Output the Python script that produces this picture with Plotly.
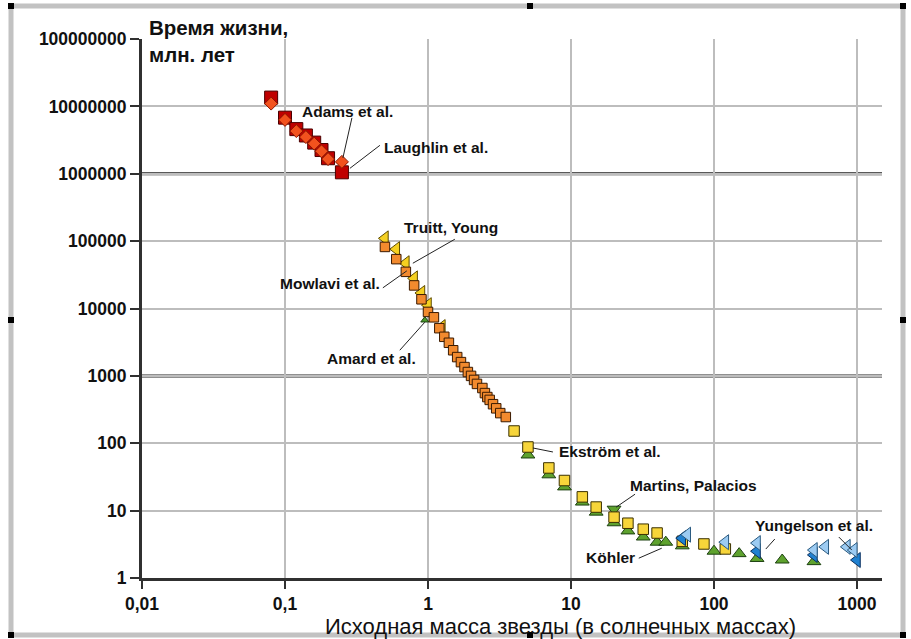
import math
import plotly.graph_objects as go

# ---------------- data ----------------
laughlin_mass = [0.08, 0.1, 0.12, 0.14, 0.16, 0.18, 0.2, 0.25]
laughlin_life = [1.35e7, 6.8e6, 4.6e6, 3.7e6, 2.9e6, 2.25e6, 1.7e6, 1.05e6]

adams_mass = [0.08, 0.1, 0.12, 0.14, 0.16, 0.18, 0.2, 0.25]
adams_life = [1.1e7, 6.3e6, 4.3e6, 3.5e6, 2.8e6, 2.15e6, 1.65e6, 1.5e6]

truitt_mass = [0.5, 0.6, 0.7, 0.8, 0.9, 1.0, 1.25]
truitt_life = [1.1e5, 7.6e4, 4.7e4, 2.8e4, 1.7e4, 1.12e4, 5.3e3]

amard_mass = [0.95]
amard_life = [6700]

mowlavi_mass = [0.5, 0.6, 0.7, 0.8, 0.9, 1.0, 1.1, 1.2, 1.3, 1.4, 1.5, 1.6, 1.7,
                1.8, 1.9, 2.0, 2.1, 2.2, 2.4, 2.5, 2.6, 2.7, 2.85, 3.0, 3.2, 3.5]
mowlavi_life = [8.2e4, 5.4e4, 3.5e4, 2.2e4, 1.37e4, 8.9e3, 7.4e3, 5.1e3, 3.8e3,
                3.1e3, 2.4e3, 1.9e3, 1.6e3, 1.35e3, 1.14e3, 1.0e3, 870, 760, 660,
                555, 485, 440, 380, 330, 280, 245]

kohler_mass = [5, 7, 9, 12, 15, 20, 25, 32, 40, 46, 60, 100, 150, 200, 300, 500]
kohler_life = [67, 34, 22.5, 13.4, 9.5, 6.6, 5.0, 4.06, 3.4, 3.4, 3.0, 2.5, 2.3,
               1.95, 1.85, 1.75]

martins_mass = [20]
martins_life = [10.5]

ekstrom_mass = [4, 5, 7, 9, 12, 15, 20, 25, 32, 40, 60, 85, 120]
ekstrom_life = [152, 88, 43, 28, 16, 11.3, 8.0, 6.5, 5.3, 4.65, 3.5, 3.2, 2.7]

yungelson_dark_mass = [60, 200, 500, 1000]
yungelson_dark_life = [3.9, 2.5, 2.2, 1.85]

yungelson_light_mass = [65, 120, 200, 500, 600, 850, 950]
yungelson_light_life = [4.4, 3.4, 3.3, 2.6, 2.9, 2.9, 2.6]

x_tick_vals = [0.01, 0.1, 1, 10, 100, 1000]
x_tick_text = ["0,01", "0,1", "1", "10", "100", "1000"]
y_tick_vals = [1, 10, 100, 1000, 10000, 100000, 1000000, 10000000, 100000000]
y_tick_text = ["1", "10", "100", "1000", "10000", "100000", "1000000",
               "10000000", "100000000"]
thick_levels = [1e6, 1e3]

y_title = "Время жизни,<br>млн. лет"
x_title = "Исходная масса звезды (в солнечных массах)"

# ---------------- layout constants ----------------
W, H = 911, 639
L, R, T, B = 142, 29, 39, 61
PW, PH = W - L - R, H - T - B
DX = 143.0            # px per decade on x
DY = PH / 8.0         # px per decade on y
FONT = "Liberation Sans, Arial, sans-serif"


def px_to_paper(px, py):
    return (px - L) / PW, (H - B - py) / PH


def offset(mx, my, dx, dy):
    """data point shifted by (dx, dy) screen pixels"""
    return mx * 10 ** (dx / DX), my * 10 ** (-dy / DY)


fig = go.Figure()


def add(mass, life, symbol, size, fill, edge, lw=1):
    fig.add_trace(go.Scatter(
        x=mass, y=life, mode="markers", hoverinfo="skip", showlegend=False,
        marker=dict(symbol=symbol, size=size, color=fill,
                    line=dict(color=edge, width=lw))))


add(laughlin_mass, laughlin_life, "square", 13, "#c00000", "#4a0000")
add(adams_mass, adams_life, "diamond", 10, "#f2521e", "#8a1500")
add(truitt_mass, truitt_life, "triangle-left", 13, "#f5d020", "#5e4c00")
add(amard_mass, amard_life, "triangle-up", 7, "#4a9a2a", "#1c4010")
add(mowlavi_mass, mowlavi_life, "square", 9.5, "#f28a2e", "#3a1a00")
add(kohler_mass, kohler_life, "triangle-up", 12, "#5ea22e", "#1c4010")
add(martins_mass, martins_life, "triangle-down", 12, "#5ea22e", "#1c4010")
add(ekstrom_mass, ekstrom_life, "square", 10.5, "#f7d53a", "#3a3000")
add(yungelson_dark_mass, yungelson_dark_life, "triangle-left", 13, "#1f80d0", "#0a3060")
add(yungelson_light_mass, yungelson_light_life, "triangle-left", 13, "#9ccbf2", "#2a5a80")

shapes = []
for lv in thick_levels:
    shapes.append(dict(type="line", xref="paper", x0=0, x1=1, yref="y", y0=lv, y1=lv,
                       line=dict(color="#222222", width=3), layer="between"))

# labels: text, anchor point, text offset (screen px), anchor side, leader lines (screen px)
labels = [
    ("Adams et al.", adams_mass[-1], adams_life[-1], -42, -50, "left", [((10, -44), (1, -4))]),
    ("Laughlin et al.", laughlin_mass[-1], laughlin_life[-1], 40, -25, "left", [((8, -4), (38, -27))]),
    ("Truitt, Young", truitt_mass[2], truitt_life[2], -4, -36, "left", [((49, -24), (7, 0))]),
    ("Mowlavi et al.", mowlavi_mass[2], mowlavi_life[2], -24, 12, "right", [((-23, 16), (1, -1))]),
    ("Amard et al.", amard_mass[0], amard_life[0], -7, 38, "right", [((-25, 30), (0, 2))]),
    ("Ekström et al.", ekstrom_mass[1], ekstrom_life[1], 29, 5, "left", [((5, 1), (25, 5))]),
    ("Martins, Palacios", martins_mass[0], martins_life[0], 14, -24, "left", [((2, -2), (21, -15))]),
    ("Köhler", kohler_mass[9], kohler_life[9], -29, 15, "right", [((-27, 16), (-4, 6))]),
    ("Yungelson et al.", yungelson_light_mass[-1], yungelson_light_life[-1], -101, -25, "left",
     [((-15, -13), (-2, 0)), ((-79, -11), (-88, -1))]),
]

annotations = []
for text, mx, my, dx, dy, anc, lines in labels:
    annotations.append(dict(
        x=math.log10(mx), y=math.log10(my), xref="x", yref="y", text=text,
        showarrow=False, xanchor=anc, yanchor="middle", xshift=dx, yshift=-dy,
        font=dict(family=FONT, size=15.5, color="#111111", weight="bold")))
    for (a, b) in lines:
        x0, y0 = offset(mx, my, a[0], a[1])
        x1, y1 = offset(mx, my, b[0], b[1])
        shapes.append(dict(type="line", xref="x", yref="y", x0=x0, y0=y0, x1=x1, y1=y1,
                           line=dict(color="#222222", width=1)))

# titles
tx, ty = px_to_paper(147, 14)
annotations.append(dict(x=tx, y=ty, xref="paper", yref="paper", text=y_title,
                        showarrow=False, xanchor="left", yanchor="top", align="left",
                        font=dict(family=FONT, size=20.5, color="#111111", weight="bold")))
tx, ty = px_to_paper(560, 626)
annotations.append(dict(x=tx, y=ty, xref="paper", yref="paper", text=x_title,
                        showarrow=False, xanchor="center", yanchor="middle",
                        font=dict(family=FONT, size=22, color="#111111")))

# outer frame with handles
fx0, fy0 = px_to_paper(11, 635)
fx1, fy1 = px_to_paper(903, 6)
shapes.append(dict(type="rect", xref="paper", yref="paper", x0=fx0, y0=fy0, x1=fx1, y1=fy1,
                   line=dict(color="#c2c2c2", width=5)))
for hx, hy in [(11, 6), (530, 6), (903, 6), (11, 320), (903, 320), (11, 635), (530, 635), (903, 635)]:
    ax0, ay0 = px_to_paper(hx - 3, hy + 3)
    ax1, ay1 = px_to_paper(hx + 3, hy - 3)
    shapes.append(dict(type="rect", xref="paper", yref="paper", x0=ax0, y0=ay0, x1=ax1, y1=ay1,
                       fillcolor="#000000", line=dict(width=0)))

tick_font = dict(family=FONT, size=17.5, color="#111111", weight="bold")

fig.update_layout(
    width=W, height=H, margin=dict(l=L, r=R, t=T, b=B, pad=0),
    paper_bgcolor="white", plot_bgcolor="white", showlegend=False,
    shapes=shapes, annotations=annotations,
    xaxis=dict(type="log", range=[-2, -2 + PW / DX], tickvals=x_tick_vals,
               ticktext=x_tick_text, showgrid=True, gridcolor="#bdbdbd", gridwidth=1.5,
               showline=True, linecolor="#303030", linewidth=3, ticks="outside",
               ticklen=8, tickwidth=2, tickcolor="#303030", zeroline=False,
               tickfont=tick_font),
    yaxis=dict(type="log", range=[0, 8], tickvals=y_tick_vals, ticktext=y_tick_text,
               showgrid=True, gridcolor="#bdbdbd", gridwidth=1.5, showline=True,
               linecolor="#303030", linewidth=3, ticks="outside", ticklen=9, tickwidth=2,
               tickcolor="#303030", zeroline=False,
               tickfont=tick_font),
)

fig.write_html("out.html", config={"displayModeBar": False},
               post_script="document.body.style.margin='0';document.body.style.overflow='hidden';")
